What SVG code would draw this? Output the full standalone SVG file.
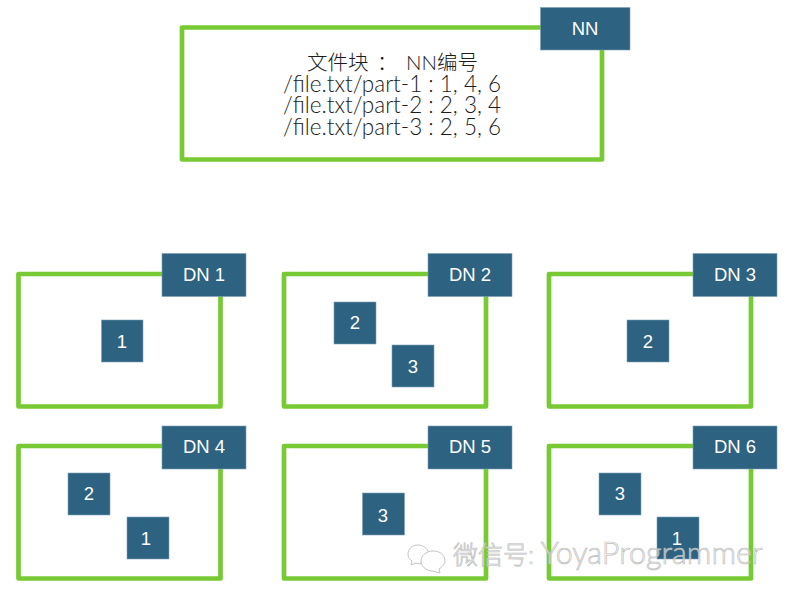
<svg xmlns="http://www.w3.org/2000/svg" width="792" height="591" viewBox="0 0 792 591">
<defs>
<style>
.frame{fill:none;stroke:#78ca34;stroke-width:4.700;stroke-linejoin:round}
.tag{fill:#2d6280;stroke:#7fa2b6;stroke-width:.6}
.lbl{font-family:"Liberation Sans",Arial,sans-serif;font-size:18.5px;fill:#fff;text-anchor:middle}
.main{font-family:"Lato","Noto Sans CJK SC",sans-serif;font-weight:300;font-size:22.500px;fill:#1c1c1c;text-anchor:middle}
.wm{font-family:"Lato","Noto Sans CJK SC",sans-serif;font-weight:300;font-size:25px;fill:#fff;stroke:#bdbdbd;stroke-width:.7;fill-opacity:.6}
.wm tspan{font-size:30.500px}
.ic{fill:#fff;stroke:#c4c4c4;stroke-width:1}
</style>
</defs>
<rect width="792" height="591" fill="#fff"/>
<g id="nn">
<rect class="frame" x="182" y="27.5" width="420" height="132"/>
<rect class="tag" x="540.5" y="7.5" width="89.500" height="42.500"/>
<text class="lbl" x="585" y="35">NN</text>
<text class="main" x="392.500" y="70" style="font-size:20.5px;word-spacing:3px">文件块 ：  NN编号</text>
<text class="main" x="392" y="92">/file.txt/part-1 : 1, 4, 6</text>
<text class="main" x="392" y="113">/file.txt/part-2 : 2, 3, 4</text>
<text class="main" x="392" y="135">/file.txt/part-3 : 2, 5, 6</text>
</g>
<g id="dn1">
<rect class="frame" x="18.500" y="274" width="202" height="132.500"/>
<rect class="tag" x="162" y="253.500" width="84" height="43"/>
<text class="lbl" x="204" y="281">DN 1</text>
<rect class="tag" x="101.500" y="320" width="41.500" height="42"/>
<text class="lbl" x="122" y="348">1</text>
</g>
<g id="dn2">
<rect class="frame" x="284" y="274" width="202" height="132.500"/>
<rect class="tag" x="428" y="253.500" width="84" height="43"/>
<text class="lbl" x="470" y="281">DN 2</text>
<rect class="tag" x="334" y="302" width="42" height="42"/>
<text class="lbl" x="355" y="329">2</text>
<rect class="tag" x="392" y="345" width="42" height="42"/>
<text class="lbl" x="413" y="373">3</text>
</g>
<g id="dn3">
<rect class="frame" x="549" y="274" width="202" height="132.500"/>
<rect class="tag" x="693" y="253.500" width="84" height="43"/>
<text class="lbl" x="735" y="281">DN 3</text>
<rect class="tag" x="627" y="320" width="42" height="42"/>
<text class="lbl" x="648" y="348">2</text>
</g>
<g id="dn4">
<rect class="frame" x="18.500" y="446" width="202" height="132.500"/>
<rect class="tag" x="162" y="426" width="84" height="43"/>
<text class="lbl" x="204" y="453">DN 4</text>
<rect class="tag" x="68" y="473" width="42" height="42"/>
<text class="lbl" x="89" y="500">2</text>
<rect class="tag" x="127" y="517" width="42" height="42"/>
<text class="lbl" x="146" y="545">1</text>
</g>
<g id="dn5">
<rect class="frame" x="284" y="446" width="202" height="132.500"/>
<rect class="tag" x="428" y="426" width="84" height="43"/>
<text class="lbl" x="470" y="453">DN 5</text>
<rect class="tag" x="362.500" y="493" width="42" height="42"/>
<text class="lbl" x="383" y="522">3</text>
</g>
<g id="dn6">
<rect class="frame" x="549" y="446" width="202" height="132.500"/>
<rect class="tag" x="693" y="426" width="84" height="43"/>
<text class="lbl" x="735" y="453">DN 6</text>
<rect class="tag" x="599" y="473" width="42" height="42"/>
<text class="lbl" x="620" y="500">3</text>
<rect class="tag" x="657" y="517" width="42" height="42"/>
<text class="lbl" x="677" y="545">1</text>
</g>
<g id="watermark">
<path class="ic" d="M418 545c-6 0-10 4-10 9 0 3 1 5 4 7l-1 4 5-2c3 1 5 1 8 0 4-2 7-6 5-10-2-5-6-8-11-8z"/>
<path class="ic" d="M433 551c-7 0-12 5-12 10s5 10 12 10l7 2-1-4c3-2 6-5 6-8 0-6-5-10-12-10z"/>
<text class="wm" x="453" y="564">微信号: <tspan>YoyaProgrammer</tspan></text>
</g>
</svg>
